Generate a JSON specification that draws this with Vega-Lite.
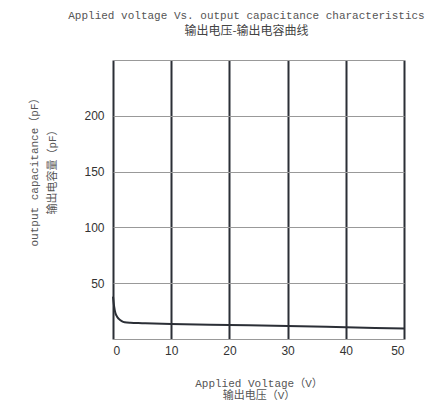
{
  "$schema": "https://vega.github.io/schema/vega-lite/v6.json",
  "width": 291,
  "height": 279,
  "autosize": "none",
  "padding": {"left": 113, "top": 60, "right": 30, "bottom": 61},
  "background": "white",
  "title": {
    "text": "Applied voltage Vs. output capacitance characteristics",
    "subtitle": "输出电压-输出电容曲线",
    "anchor": "middle",
    "dx": -12,
    "font": "Liberation Mono",
    "fontSize": 11,
    "fontWeight": "normal",
    "color": "#555555",
    "subtitleFont": "Noto Sans CJK SC",
    "subtitleFontSize": 12,
    "subtitleColor": "#444444",
    "subtitlePadding": 5,
    "offset": 23
  },
  "data": {
    "values": [
      {"v": 0, "c": 38},
      {"v": 0.2, "c": 29},
      {"v": 0.4, "c": 23.5},
      {"v": 0.7, "c": 20},
      {"v": 1, "c": 18},
      {"v": 1.5, "c": 16},
      {"v": 2, "c": 15},
      {"v": 3, "c": 14.5},
      {"v": 5, "c": 14.2},
      {"v": 10, "c": 13.5},
      {"v": 20, "c": 12.6},
      {"v": 30, "c": 11.7},
      {"v": 40, "c": 10.5},
      {"v": 50, "c": 9.3}
    ]
  },
  "mark": {"type": "line", "interpolate": "monotone", "color": "#2b2f36", "strokeWidth": 2},
  "encoding": {
    "x": {
      "field": "v",
      "type": "quantitative",
      "scale": {"domain": [0, 50], "nice": false},
      "axis": {
        "values": [0, 10, 20, 30, 40, 50],
        "grid": true,
        "gridColor": "#2b2f36",
        "gridWidth": 2,
        "gridOpacity": 1,
        "domain": false,
        "ticks": false,
        "labelPadding": 6,
        "labelFont": "Liberation Sans",
        "labelFontSize": 12,
        "labelColor": "#333333",
        "title": ["Applied Voltage（V）", "输出电压（V）"],
        "titleFont": "Liberation Mono, Noto Sans CJK SC",
        "titleFontSize": 11,
        "titleFontWeight": "normal",
        "titleColor": "#555555",
        "titleLineHeight": 12,
        "titlePadding": 21
      }
    },
    "y": {
      "field": "c",
      "type": "quantitative",
      "scale": {"domain": [0, 250], "nice": false},
      "axis": {
        "values": [0, 50, 100, 150, 200, 250],
        "labelExpr": "datum.value == 0 || datum.value == 250 ? '' : datum.label",
        "grid": true,
        "gridColor": "#999999",
        "gridWidth": 1,
        "domain": false,
        "ticks": false,
        "labelPadding": 9,
        "labelFont": "Liberation Sans",
        "labelFontSize": 12,
        "labelColor": "#333333",
        "title": ["output capacitance（pF）", "输出电容量（pF）"],
        "titleFont": "Liberation Mono, Noto Sans CJK SC",
        "titleFontSize": 11,
        "titleFontWeight": "normal",
        "titleColor": "#555555",
        "titleLineHeight": 18,
        "titleY": 109,
        "titlePadding": 26
      }
    }
  },
  "config": {"view": {"stroke": null}}
}
